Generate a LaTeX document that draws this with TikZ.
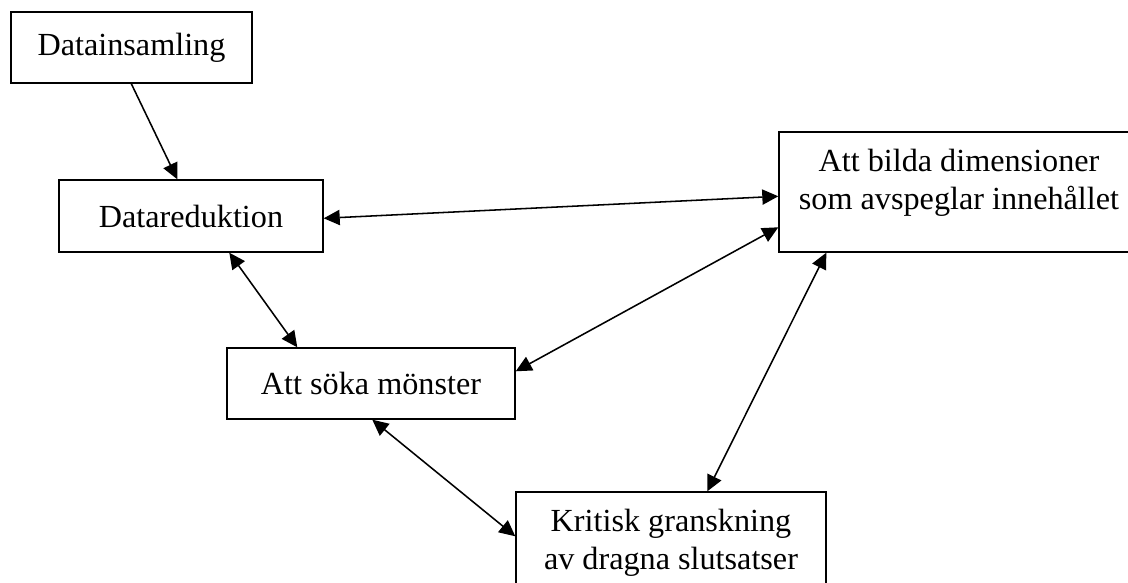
\documentclass[tikz,border=0pt]{standalone}
\usepackage{fontspec}
\setmainfont{Liberation Serif}
\usetikzlibrary{arrows.meta,calc}

\begin{document}
\begin{tikzpicture}[x=0.025cm,y=-0.025cm,
  box/.style={draw=black,line width=1pt,inner sep=0pt,align=center,
    font=\fontsize{22.9}{27.5}\selectfont},
  twoline/.style={text depth=18pt},
  link/.style={line width=1.1pt,{Triangle[length=0.4cm,width=0.38cm]}-{Triangle[length=0.4cm,width=0.38cm]}},
  onelink/.style={line width=1.1pt,-{Triangle[length=0.4cm,width=0.38cm]}}]
\useasboundingbox (0,0) rectangle (1128,583);
\node [box,minimum width=241*0.025cm,minimum height=71*0.025cm] (insamling) at (131.5,47.5) {Datainsamling};
\node [box,minimum width=264*0.025cm,minimum height=72*0.025cm] (reduktion) at (191,216) {Datareduktion};
\node [box,twoline,minimum width=360*0.025cm,minimum height=120*0.025cm] (bilda) at (959,192) {Att bilda dimensioner\\som avspeglar innehållet};
\node [box,minimum width=288*0.025cm,minimum height=71*0.025cm] (monster) at (371,383.5) {Att söka mönster};
\node [box,twoline,minimum width=310*0.025cm,minimum height=120*0.025cm] (kritisk) at (671,552) {Kritisk granskning\\av dragna slutsatser};
\draw [onelink] ($(insamling.south west)+(121,0)$) -- ($(reduktion.north west)+(119,0)$);
\draw [link] ($(reduktion.north east)+(0,39)$) -- ($(bilda.north west)+(0,65)$);
\draw [link] ($(reduktion.south west)+(171,0)$) -- ($(monster.north west)+(71,0)$);
\draw [link] ($(bilda.north west)+(0,96)$) -- ($(monster.north east)+(0,24)$);
\draw [link] ($(bilda.south west)+(48,0)$) -- ($(kritisk.north west)+(192,0)$);
\draw [link] ($(monster.south west)+(146,0)$) -- ($(kritisk.north west)+(0,45)$);
\end{tikzpicture}
\end{document}
